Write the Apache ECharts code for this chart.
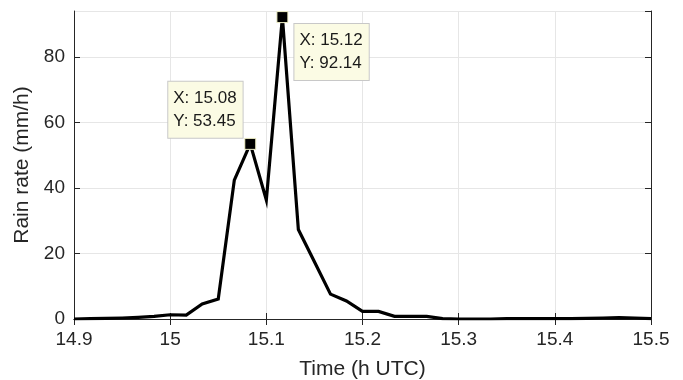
<!DOCTYPE html>
<html>
<head>
<meta charset="utf-8">
<script src="https://cdn.jsdelivr.net/npm/echarts@6/dist/echarts.min.js"></script>
<style>
  html, body { margin: 0; padding: 0; background: #fff; }
  #chart { width: 683px; height: 380px; }
</style>
</head>
<body>
<div id="chart"></div>
<script>
// time in hours UTC, one sample per minute
const times = [14.9, 14.9167, 14.9333, 14.95, 14.9667, 14.9833, 15, 15.0167, 15.0333, 15.05,
  15.0667, 15.0833, 15.1, 15.1167, 15.1333, 15.15, 15.1667, 15.1833, 15.2, 15.2167,
  15.2333, 15.25, 15.2667, 15.2833, 15.3, 15.3167, 15.3333, 15.35, 15.3667, 15.3833,
  15.4, 15.4167, 15.4333, 15.45, 15.4667, 15.4833, 15.5];
// rain rate (mm/h)
const rainRate = [0.0, 0.1, 0.2, 0.3, 0.5, 0.8, 1.3, 1.2, 4.6, 6.1,
  42.4, 53.45, 36.3, 92.14, 27.3, 17.5, 7.6, 5.5, 2.3, 2.3,
  0.8, 0.8, 0.8, 0.1, 0.0, 0.0, 0.0, 0.1, 0.1, 0.1,
  0.1, 0.1, 0.2, 0.3, 0.4, 0.3, 0.1];
// data tips: [x, y]
const tips = [[15.0833, 53.45], [15.1167, 92.14]];
const tipLabels = ['X: 15.08\nY: 53.45', 'X: 15.12\nY: 92.14'];

const font = "'Liberation Sans', Arial, Helvetica, sans-serif";
const axisColor = '#262626';
const gridColor = '#e6e6e6';

let chart = echarts.init(document.getElementById('chart'));

// top / right axes only to close the box (MATLAB "box on")
let boxAxis = {
  axisLine: { show: true, lineStyle: { color: axisColor, width: 1 } },
  axisTick: { show: true, inside: true, length: 6, lineStyle: { color: axisColor } },
  axisLabel: { show: false },
  splitLine: { show: false },
};

let option = {
  animation: false,
  grid: { left: 74, right: 32, top: 11, bottom: 61, containLabel: false, outerBoundsMode: 'none' },
  xAxis: [
    {
      type: 'value',
      min: 14.9,
      max: 15.5,
      interval: 0.1,
      name: 'Time (h UTC)',
      nameLocation: 'middle',
      nameGap: 40,
      nameTextStyle: { fontFamily: font, fontSize: 21, color: axisColor },
      axisLine: { lineStyle: { color: axisColor, width: 1 } },
      axisTick: { inside: true, length: 6, lineStyle: { color: axisColor } },
      axisLabel: { fontFamily: font, fontSize: 19, color: axisColor, margin: 11 },
      splitLine: { show: true, lineStyle: { color: gridColor, width: 1 } },
    },
    Object.assign({ type: 'value', position: 'top', min: 14.9, max: 15.5, interval: 0.1 }, boxAxis),
  ],
  yAxis: [
    {
      type: 'value',
      min: 0,
      max: 94,
      interval: 20,
      name: 'Rain rate (mm/h)',
      nameLocation: 'middle',
      nameGap: 37,
      nameTextStyle: { fontFamily: font, fontSize: 21, color: axisColor },
      axisLine: { show: true, lineStyle: { color: axisColor, width: 1 } },
      axisTick: { show: true, inside: true, length: 6, lineStyle: { color: axisColor } },
      axisLabel: { fontFamily: font, fontSize: 19, color: axisColor, margin: 9, showMaxLabel: false },
      splitLine: { show: true, lineStyle: { color: gridColor, width: 1 } },
    },
    Object.assign({ type: 'value', position: 'right', min: 0, max: 94, interval: 20 }, boxAxis),
  ],
  series: [
    {
      type: 'line',
      data: times.map((t, i) => [t, rainRate[i]]),
      showSymbol: false,
      lineStyle: { color: '#000', width: 3.2, join: 'miter' },
      markPoint: {
        symbol: 'rect',
        symbolSize: 11,
        itemStyle: { color: '#000', borderColor: '#f2f2c8', borderWidth: 1 },
        label: {
          show: true,
          fontFamily: font,
          fontSize: 17,
          lineHeight: 23,
          color: '#1a1a1a',
          backgroundColor: '#fbfbe4',
          borderColor: '#c8c8c8',
          borderWidth: 1,
          padding: [5, 6, 5, 5],
          align: 'left',
          verticalAlign: 'top',
        },
        data: tips.map((p, i) => ({
          coord: p,
          label: {
            formatter: tipLabels[i],
            position: i === 0 ? [-76, -56] : [18, 13],
          },
        })),
      },
    },
  ],
};

chart.setOption(option);
</script>
</body>
</html>
